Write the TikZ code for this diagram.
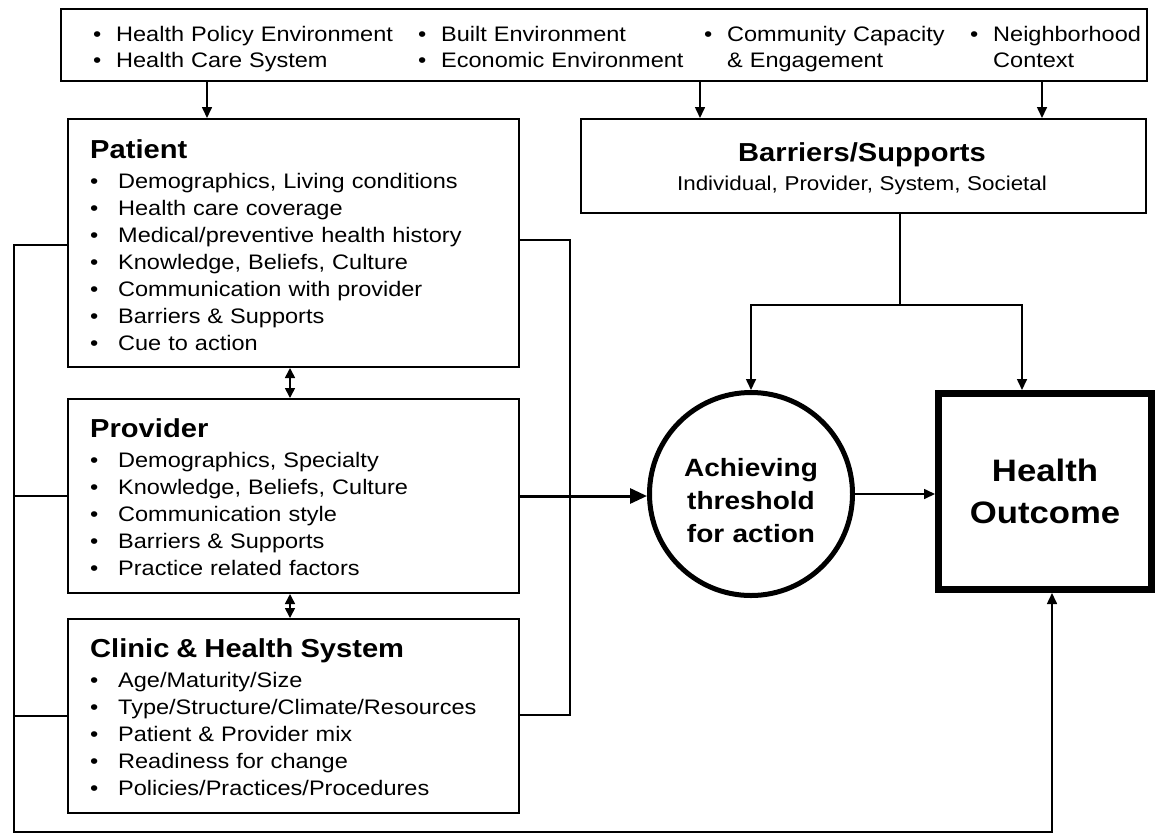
\documentclass[tikz,border=0pt]{standalone}
\usepackage{fontspec}
\setmainfont{Liberation Sans}[FakeStretch=1.12]
\usetikzlibrary{arrows.meta}

% one bullet with a fixed indent for the list items
\newcommand\itm{\makebox[28pt][l]{\textbullet}}
\newcommand\lbul{\leavevmode\hspace*{-23pt}\makebox[23pt][l]{\textbullet}}

\tikzset{
  box/.style={draw, line width=2pt, anchor=north west, inner sep=0pt},
  conn/.style={line width=1.6pt},
  tip/.style={-{Triangle[length=11pt,width=10pt]}},
  arr/.style={conn, tip},
  dbl/.style={conn, {Triangle[length=10pt,width=10pt]}-{Triangle[length=10pt,width=10pt]}},
  envtext/.style={anchor=base west, inner sep=0pt, text width=400pt, align=left,
    font=\fontsize{21}{26}\selectfont},
  list/.style={anchor=base west, inner sep=0pt, text width=420pt, align=left,
    font=\fontsize{21}{27}\selectfont},
}

\begin{document}
\begin{tikzpicture}[x=1pt,y=-1pt]
\useasboundingbox[fill=white] (0,0) rectangle (1158,836);

% ---- outer context box -------------------------------------------------
\node[box, minimum width=1086pt, minimum height=72pt] (env) at (60,8) {};
\node[envtext] (env1) at (116,41.5) {\lbul Health Policy Environment\\\lbul Health Care System};
\node[envtext] (env2) at (441,41.5) {\lbul Built Environment\\\lbul Economic Environment};
\node[envtext] (env3) at (727,41.5) {\lbul Community Capacity\\\& Engagement};
\node[envtext] (env4) at (993,41.5) {\lbul Neighborhood\\Context};

% ---- patient / provider / clinic ----------------------------------------
\node[box, minimum width=451pt, minimum height=248pt] (patient) at (67,118) {};
\node[list] (patientText) at (90,158) {{\fontsize{26}{27}\selectfont\bfseries Patient}\\[3pt]
  \itm Demographics, Living conditions\\
  \itm Health care coverage\\
  \itm Medical/preventive health history\\
  \itm Knowledge, Beliefs, Culture\\
  \itm Communication with provider\\
  \itm Barriers \& Supports\\
  \itm Cue to action};

\node[box, minimum width=451pt, minimum height=194pt] (provider) at (67,398) {};
\node[list] (providerText) at (90,437) {{\fontsize{26}{27}\selectfont\bfseries Provider}\\[3pt]
  \itm Demographics, Specialty\\
  \itm Knowledge, Beliefs, Culture\\
  \itm Communication style\\
  \itm Barriers \& Supports\\
  \itm Practice related factors};

\node[box, minimum width=451pt, minimum height=194pt] (clinic) at (67,618) {};
\node[list] (clinicText) at (90,657) {{\fontsize{26}{27}\selectfont\bfseries Clinic \& Health System}\\[3pt]
  \itm Age/Maturity/Size\\
  \itm Type/Structure/Climate/Resources\\
  \itm Patient \& Provider mix\\
  \itm Readiness for change\\
  \itm Policies/Practices/Procedures};

% ---- barriers / supports ------------------------------------------------
\node[box, minimum width=565pt, minimum height=94pt] (bar) at (580,118) {};
\node[anchor=base, inner sep=0pt, text width=540pt, align=center,
      font=\fontsize{20}{29}\selectfont] (barText) at (862,161)
  {{\fontsize{26}{27}\selectfont\bfseries Barriers/Supports}\\
   Individual, Provider, System, Societal};

% ---- threshold and outcome ----------------------------------------------
\node[circle, draw, line width=5pt, minimum size=203pt, inner sep=0pt] (thr) at (751,494) {};
\node[anchor=base, inner sep=0pt, text width=200pt, align=center,
      font=\fontsize{25}{33}\selectfont\bfseries] (thrText) at (751,476)
  {Achieving\\threshold\\for action};

\node[draw, line width=7pt, minimum width=213pt, minimum height=196pt, inner sep=0pt] (out) at (1045,491.5) {};
\node[anchor=base, inner sep=0pt, text width=210pt, align=center,
      font=\fontsize{31}{42}\selectfont\bfseries] (outText) at (1045,481)
  {Health\\Outcome};

% ---- connectors ----------------------------------------------------------
\coordinate (xa) at (207,0);
\coordinate (xb) at (700,0);
\coordinate (xc) at (1042,0);
\draw[arr] (env.south -| xa) -- (patient.north -| xa);
\draw[arr] (env.south -| xb) -- (bar.north -| xb);
\draw[arr] (env.south -| xc) -- (bar.north -| xc);

\coordinate (xd) at (290,0);
\draw[dbl] (patient.south -| xd) -- (provider.north -| xd);
\draw[dbl] (provider.south -| xd) -- (clinic.north -| xd);

% barriers feed both the threshold and the outcome
\coordinate (split) at (900,305);
\coordinate (xo) at (1022,0);
\draw[conn] (bar.south -| split) -- (split);
\draw[arr] (split) -| (thr.north);
\draw[arr] (split) -| (out.north -| xo);

% provider pushes toward the threshold
\draw[line width=3pt, -{Triangle[length=17pt,width=15pt]}] (provider.east) -- (provider.east -| thr.west);
\draw[arr] (thr.east) -- (thr.east -| out.west);

% right bracket joining patient and clinic
\coordinate (rt) at (570,240);
\coordinate (rb) at (570,715);
\draw[conn] (rt -| patient.east) -- (rt) -- (rb) -- (rb -| clinic.east);

% left bracket running under everything up into the outcome
\coordinate (lt) at (14,245);
\coordinate (lbot) at (14,832);
\coordinate (xe) at (1052,0);
\draw[arr] (lt -| patient.west) -- (lt) -- (lbot) -| (out.south -| xe);
\draw[conn] (provider.west) -- (provider.west -| lt);
\draw[conn] (clinic.west) -- (clinic.west -| lt);
\end{tikzpicture}
\end{document}
